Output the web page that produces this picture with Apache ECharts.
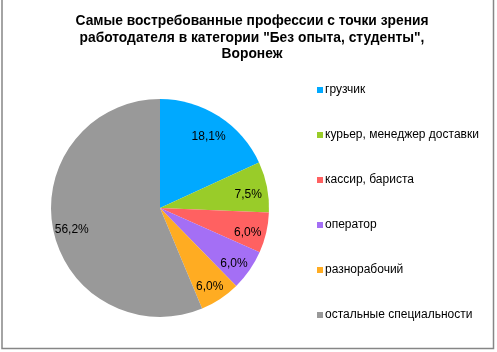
<!DOCTYPE html>
<html>
<head>
<meta charset="utf-8">
<script src="https://cdn.jsdelivr.net/npm/echarts@6/dist/echarts.min.js"></script>
<style>
    html, body {margin: 0; padding: 0; background: #fff;}
    #chart {width: 497px; height: 352px;}
</style>
</head>
<body>
<div id="chart"></div>
<script>
    // данные
    var titleText = 'Самые востребованные профессии с точки зрения\nработодателя в категории "Без опыта, студенты",\nВоронеж';
    var categories = ['грузчик', 'курьер, менеджер доставки', 'кассир, бариста', 'оператор', 'разнорабочий', 'остальные специальности'];
    var values = [18.1, 7.5, 6.0, 6.0, 6.0, 56.2];
    var colors = ['#00a9ff', '#99cc29', '#ff6161', '#a46ff5', '#ffac22', '#999999'];

    var chart = echarts.init(document.getElementById('chart'));

    var pieData = categories.map(function (name, i) {
        return {name: name, value: values[i], itemStyle: {color: colors[i]}};
    });
    // прозрачный слой только для подписей (чтобы сдвинуть их к краю)
    var labelData = categories.map(function (name, i) {
        return {name: name, value: values[i]};
    });

    var option = {
        animation: false,
        title: {
            text: titleText,
            left: 247,
            textAlign: 'center',
            top: 8,
            textStyle: {
                fontFamily: 'Liberation Sans',
                fontSize: 13.8,
                fontWeight: 'bold',
                lineHeight: 16.5,
                color: '#000'
            }
        },
        legend: {
            orient: 'vertical',
            left: 312,
            top: 78,
            itemWidth: 6,
            itemHeight: 6,
            itemGap: 31,
            icon: 'rect',
            data: categories,
            textStyle: {
                fontFamily: 'Liberation Sans',
                fontSize: 12,
                lineHeight: 14,
                color: '#000',
                padding: [0, 0, 0, -3]
            }
        },
        graphic: [{
            type: 'rect',
            shape: {x: 2, y: -5, width: 491.5, height: 353.5},
            style: {fill: 'none', stroke: '#868686', lineWidth: 1.5},
            silent: true
        }],
        series: [
            {
                type: 'pie',
                center: [160, 208],
                radius: 109,
                startAngle: 90,
                clockwise: true,
                label: {show: false},
                labelLine: {show: false},
                emphasis: {disabled: true},
                data: pieData
            },
            {
                type: 'pie',
                center: [160, 208],
                radius: [65, 109],
                startAngle: 90,
                clockwise: true,
                silent: true,
                itemStyle: {color: 'rgba(0,0,0,0)'},
                labelLine: {show: false},
                label: {
                    show: true,
                    position: 'inside',
                    offset: [0, 4],
                    fontFamily: 'Liberation Sans',
                    fontSize: 12,
                    color: '#000',
                    formatter: function (p) {
                        return p.value.toFixed(1).replace('.', ',') + '%';
                    }
                },
                data: labelData
            }
        ]
    };

    chart.setOption(option);
</script>
</body>
</html>
